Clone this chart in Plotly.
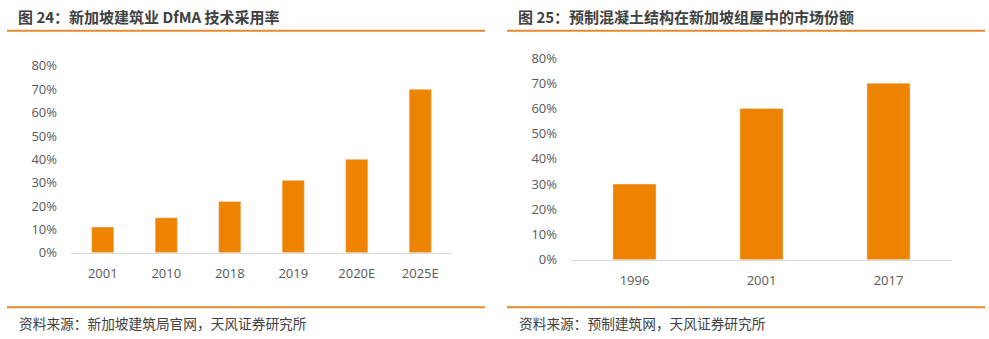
import plotly.graph_objects as go

# Figure 24: DfMA adoption rate in Singapore construction
dfma_years = ["2001", "2010", "2018", "2019", "2020E", "2025E"]
dfma_rate = [0.11, 0.15, 0.22, 0.31, 0.40, 0.70]

# Figure 25: precast concrete share in Singapore HDB flats
precast_years = ["1996", "2001", "2017"]
precast_share = [0.30, 0.60, 0.70]

y_ticks = [0, 0.1, 0.2, 0.3, 0.4, 0.5, 0.6, 0.7, 0.8]

W, H = 989, 339
BAR = "#EE8300"
RULE = "#E58A2E"
TICK_FONT = dict(family="Open Sans, Noto Sans, sans-serif", size=13, color="#595959")
CJK = "Noto Sans CJK SC"

# vertical positions are given in page pixels; the page body carries an 8px
# margin top and bottom, and the page is shown fitted to the window height
V_SCALE = H / (H + 16)
V_OFFSET = 8 * V_SCALE


def px_x(v):
    return v / W


def px_y(v):
    return 1 - ((v - V_OFFSET) / V_SCALE) / H


fig = go.Figure()
fig.add_trace(go.Bar(x=dfma_years, y=dfma_rate, marker_color=BAR, xaxis="x", yaxis="y",
                     width=0.35, hoverinfo="x+y"))
fig.add_trace(go.Bar(x=precast_years, y=precast_share, marker_color=BAR, xaxis="x2", yaxis="y2",
                     width=0.34, hoverinfo="x+y"))

axis_common = dict(showgrid=False, zeroline=False, fixedrange=True)

fig.update_layout(
    width=W, height=H,
    margin=dict(l=0, r=0, t=0, b=0),
    paper_bgcolor="white", plot_bgcolor="white",
    showlegend=False,
    xaxis=dict(domain=[px_x(71), px_x(452)], anchor="y", showline=True, linecolor="#D9D9D9",
               linewidth=1, ticks="", tickfont=TICK_FONT, ticklabelstandoff=9, **axis_common),
    yaxis=dict(domain=[px_y(253.5), px_y(65)], anchor="x", range=[0, 0.8], tickvals=y_ticks,
               tickformat=".0%", showline=False, ticks="", tickfont=TICK_FONT,
               ticklabelstandoff=13, **axis_common),
    xaxis2=dict(domain=[px_x(571), px_x(952)], anchor="y2", showline=True, linecolor="#D9D9D9",
                linewidth=1, ticks="", tickfont=TICK_FONT, ticklabelstandoff=9, **axis_common),
    yaxis2=dict(domain=[px_y(260.5), px_y(57)], anchor="x2", range=[0, 0.8], tickvals=y_ticks,
                tickformat=".0%", showline=False, ticks="", tickfont=TICK_FONT,
                ticklabelstandoff=13, **axis_common),
)

shapes = []
for x0, x1 in [(7, 485), (507, 985)]:
    for yy in (29.5, 308.5):
        shapes.append(dict(type="line", xref="paper", yref="paper",
                           x0=px_x(x0), x1=px_x(x1), y0=px_y(yy), y1=px_y(yy),
                           line=dict(color=RULE, width=2)))
fig.update_layout(shapes=shapes)

annotations = [
    dict(text="<b>图 24：新加坡建筑业 DfMA 技术采用率</b>", x=px_x(16), y=px_y(15)),
    dict(text="<b>图 25：预制混凝土结构在新加坡组屋中的市场份额</b>", x=px_x(516), y=px_y(15)),
]
for a in annotations:
    a.update(xref="paper", yref="paper", xanchor="left", yanchor="middle", showarrow=False,
             font=dict(family=CJK, size=15, color="#404040"))

sources = [
    dict(text="资料来源：新加坡建筑局官网，天风证券研究所", x=px_x(17), y=px_y(324.5)),
    dict(text="资料来源：预制建筑网，天风证券研究所", x=px_x(517), y=px_y(324.5)),
]
for a in sources:
    a.update(xref="paper", yref="paper", xanchor="left", yanchor="middle", showarrow=False,
             font=dict(family=CJK, size=13.7, color="#404040"))

fig.update_layout(annotations=annotations + sources)

fig.write_html("out.html", config={"displayModeBar": False})
